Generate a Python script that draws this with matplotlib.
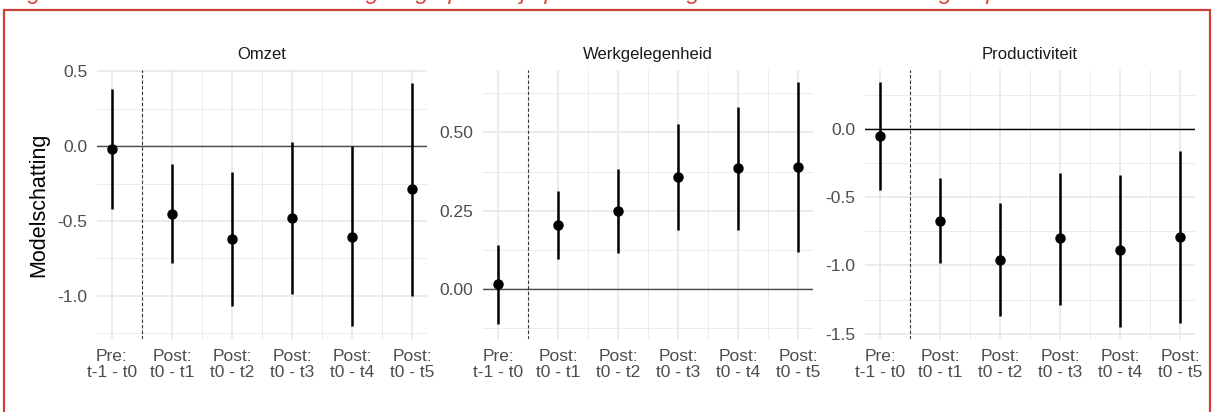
import numpy as np
import matplotlib.pyplot as plt
from matplotlib.patches import Rectangle
from matplotlib.ticker import MultipleLocator, FixedLocator

plt.rcParams['font.family'] = ['Liberation Sans', 'DejaVu Sans']

# Categories (x axis)
periods = ["Pre:\nt-1 - t0", "Post:\nt0 - t1", "Post:\nt0 - t2",
           "Post:\nt0 - t3", "Post:\nt0 - t4", "Post:\nt0 - t5"]

# Omzet
omzet_est = [-0.02, -0.455, -0.62, -0.48, -0.61, -0.285]
omzet_lo = [-0.42, -0.78, -1.07, -0.99, -1.20, -1.00]
omzet_hi = [0.38, -0.12, -0.17, 0.03, 0.00, 0.42]

# Werkgelegenheid
werk_est = [0.016, 0.205, 0.25, 0.358, 0.386, 0.391]
werk_lo = [-0.11, 0.095, 0.116, 0.189, 0.19, 0.12]
werk_hi = [0.14, 0.314, 0.383, 0.528, 0.58, 0.66]

# Productiviteit
prod_est = [-0.05, -0.67, -0.96, -0.80, -0.89, -0.79]
prod_lo = [-0.446, -0.98, -1.37, -1.29, -1.45, -1.42]
prod_hi = [0.345, -0.355, -0.545, -0.32, -0.336, -0.16]

titles = ["Omzet", "Werkgelegenheid", "Productiviteit"]
ylims = [(-1.29, 0.51), (-0.159, 0.699), (-1.54, 0.435)]
major = [0.5, 0.25, 0.5]
fmts = ["{:.1f}", "{:.2f}", "{:.1f}"]
zero_col = ["#4d4d4d", "#4d4d4d", "black"]

W, H = 1214, 412
fig = plt.figure(figsize=(W / 100, H / 100), dpi=100)

# red frame
fig.patches.append(Rectangle((4 / W, -0.05), 1206 / W, 1.05 - 9.5 / H,
                             transform=fig.transFigure, fill=False,
                             edgecolor="#c8413b", linewidth=1.6))
# caption, cut off at the top edge as in the source
fig.text(8 / W, 1.0 + 1 / H,
         "Figuur 6: Geschat effect van de regeling op bedrijfsprestaties vergeleken met de controlegroep",
         color="#d9463e", fontstyle="italic", fontsize=17, va="baseline", ha="left")

lefts = [97, 483, 865]
x = np.arange(1, 7)
data = [(omzet_est, omzet_lo, omzet_hi), (werk_est, werk_lo, werk_hi), (prod_est, prod_lo, prod_hi)]

for i, (est, lo, hi) in enumerate(data):
    ax = fig.add_axes([lefts[i] / W, 1 - 339 / H, 330 / W, 269 / H])
    ax.set_xlim(0.75, 6.25)
    ax.set_ylim(*ylims[i])
    for s in ax.spines.values():
        s.set_visible(False)

    ax.yaxis.set_major_locator(MultipleLocator(major[i]))
    ax.yaxis.set_minor_locator(MultipleLocator(major[i] / 2))
    ax.xaxis.set_major_locator(FixedLocator(x))
    ax.xaxis.set_minor_locator(FixedLocator(x[:-1] + 0.5))
    ax.grid(which="major", color="#e8e8e8", linewidth=1.2)
    ax.grid(which="minor", color="#ebebeb", linewidth=0.7)
    ax.set_axisbelow(True)
    ax.tick_params(which="both", length=0)
    ax.tick_params(axis="both", labelcolor="#4d4d4d", labelsize=12.5)
    ax.tick_params(axis="x", pad=7)
    ax.tick_params(axis="y", pad=7)
    ax.set_xticklabels(periods, linespacing=1.1)
    ax.set_yticklabels([fmts[i].format(v) for v in ax.get_yticks()])

    ax.axhline(0, color=zero_col[i], linewidth=1.0)
    ax.axvline(1.5, color="#333333", linewidth=0.8, linestyle=(0, (3, 2)))
    ax.vlines(x, lo, hi, color="black", linewidth=1.8)
    ax.plot(x, est, "o", color="black", markersize=6.5)
    ax.set_title(titles[i], fontsize=12, color="#1a1a1a", pad=8)
    if i == 0:
        ax.set_ylabel("Modelschatting", fontsize=15.5, color="black", labelpad=6)

fig.savefig("out.png", dpi=100)
